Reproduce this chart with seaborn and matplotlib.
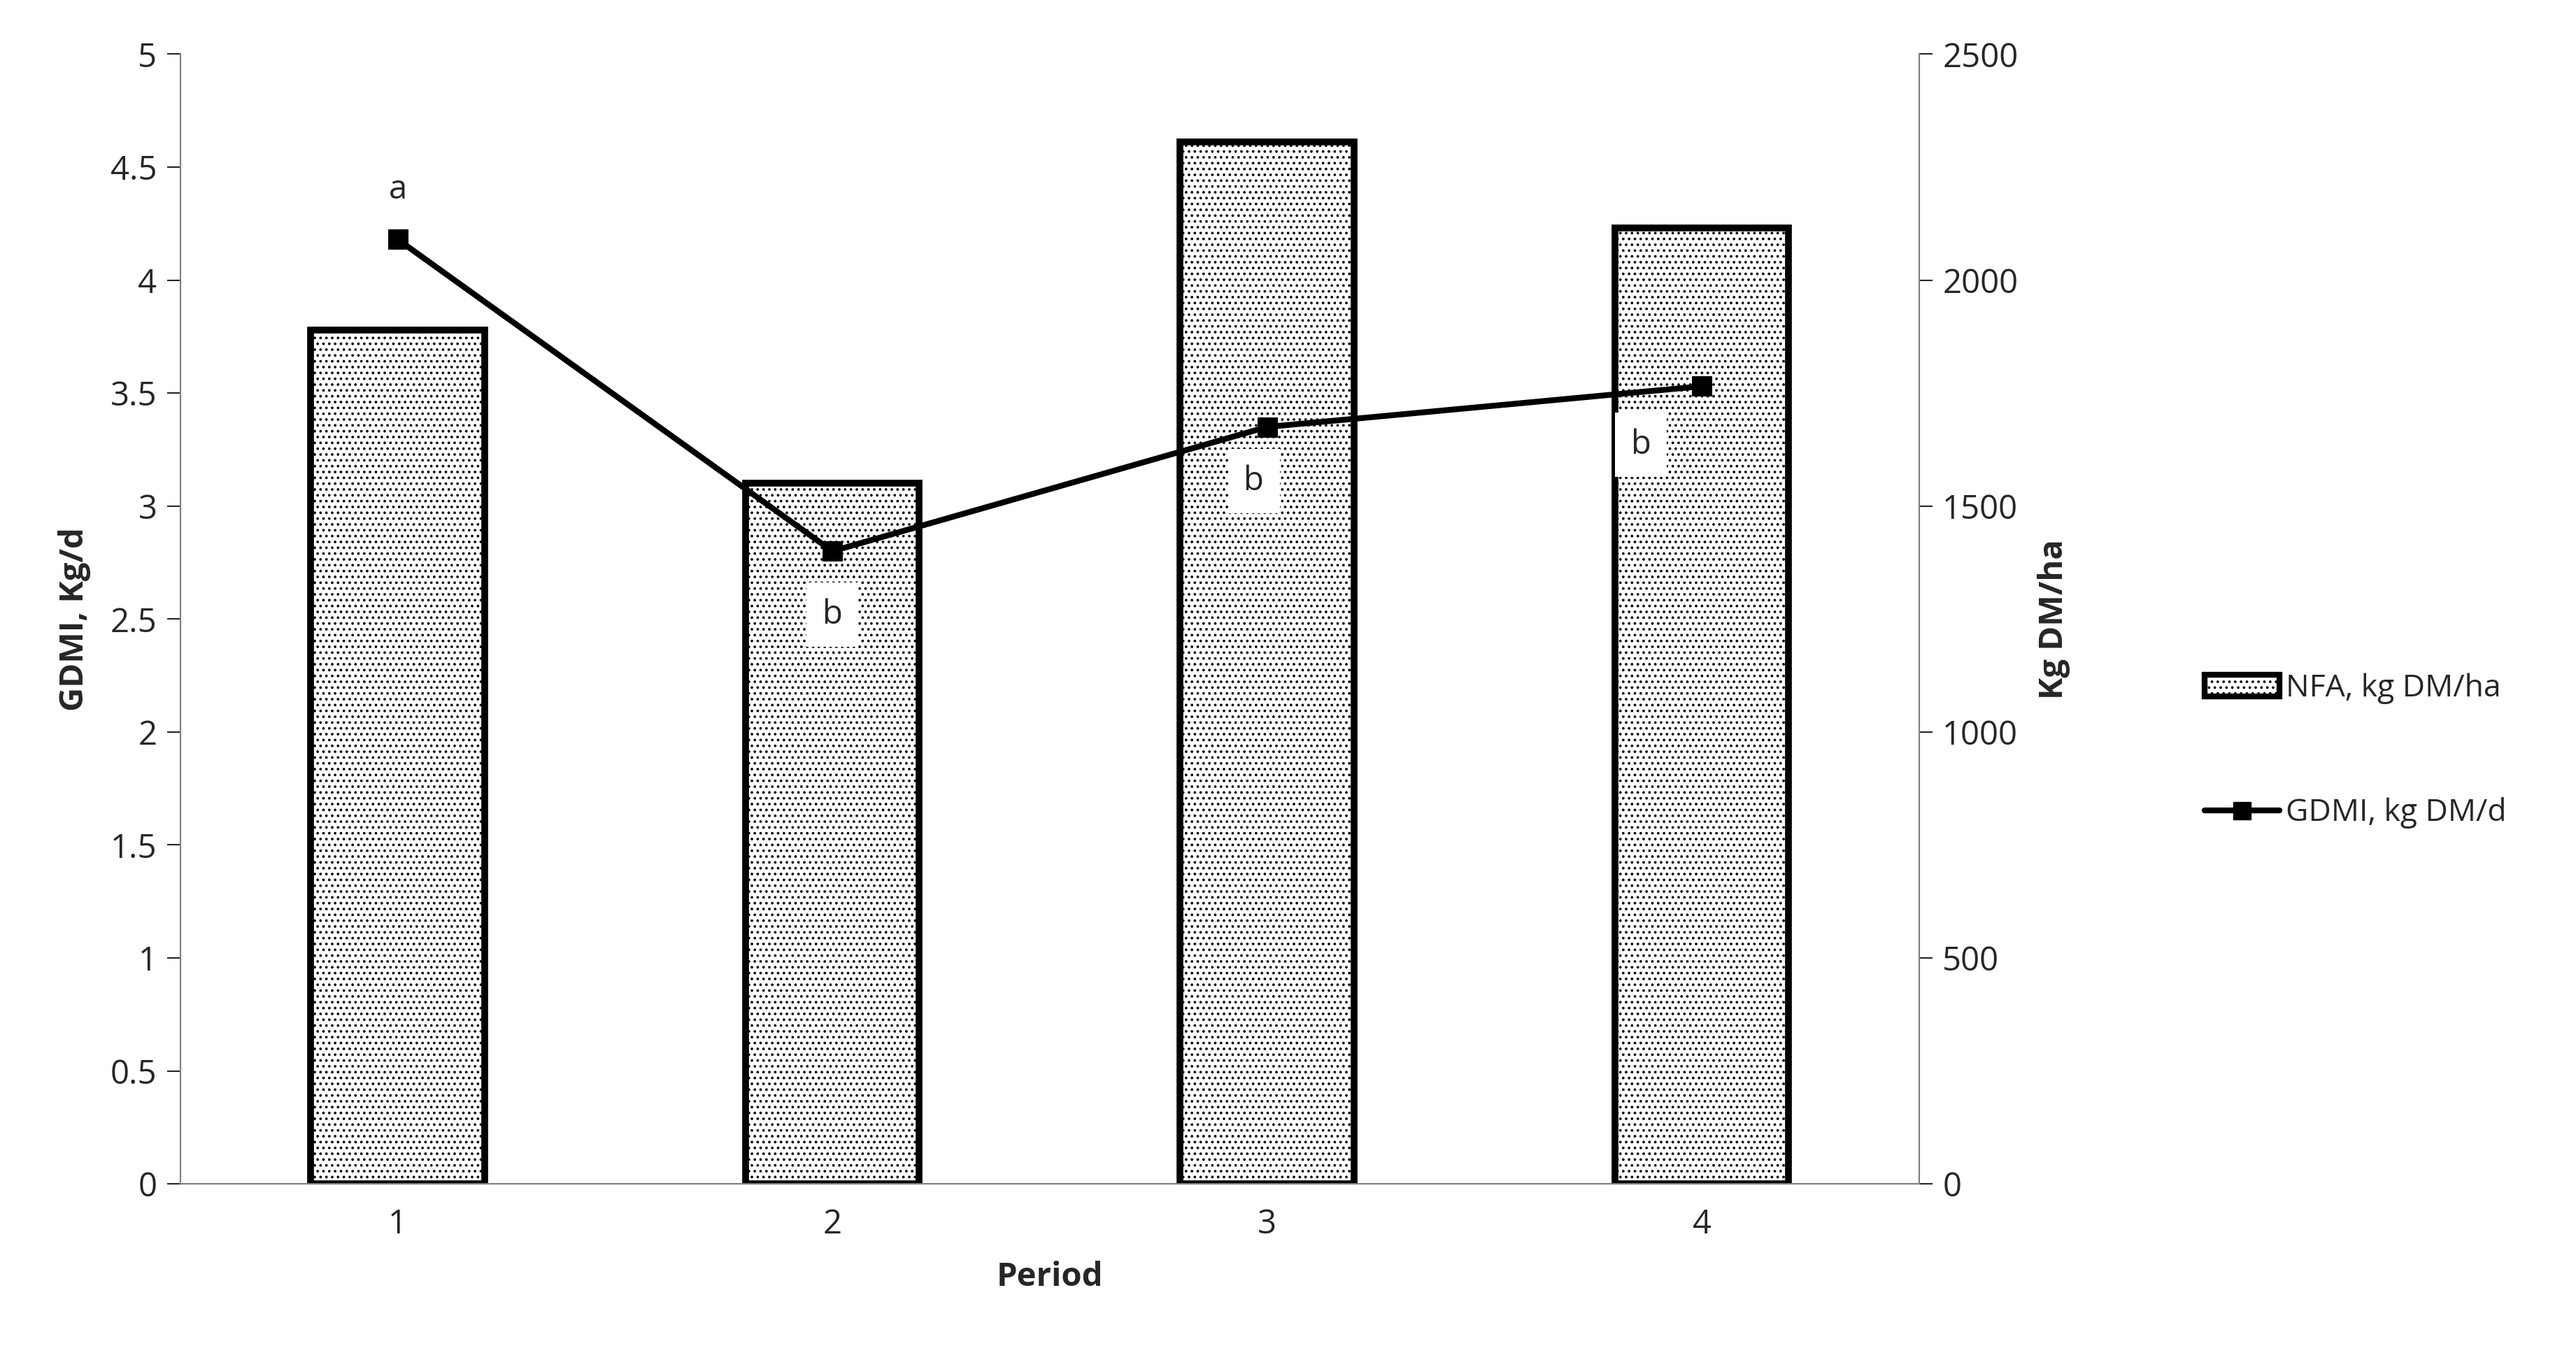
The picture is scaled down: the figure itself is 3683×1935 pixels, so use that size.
import matplotlib as mpl
import matplotlib.pyplot as plt
import seaborn as sns
import pandas as pd
import numpy as np
from matplotlib.patches import Patch
from matplotlib.lines import Line2D

sns.set_style("white")
plt.rcParams['font.family'] = ['Open Sans', 'DejaVu Sans']
plt.rcParams['hatch.linewidth'] = 1.5

periods = ["1", "2", "3", "4"]
nfa = [1890, 1550, 2305, 2115]          # NFA, kg DM/ha (right axis)
gdmi = [4.18, 2.80, 3.35, 3.53]         # GDMI, kg DM/d (left axis)
letters = ["a", "b", "b", "b"]

df = pd.DataFrame({"Period": periods, "NFA": nfa, "GDMI": gdmi, "pos": range(len(periods))})

fig = plt.figure(figsize=(36.83, 19.35), dpi=100)
ax = fig.add_axes([0.070, 0.125, 0.675, 0.835])
ax2 = ax.twinx()

# bars on the secondary axis
sns.barplot(data=df, x="Period", y="NFA", ax=ax2, color="white", width=0.4,
            edgecolor="black", linewidth=7, saturation=1)
for p in ax2.patches:
    p.set_hatch("..")
    p.set_edgecolor("black")

# line on the primary axis, drawn above bars
ax.set_zorder(ax2.get_zorder() + 1)
ax.patch.set_visible(False)
sns.lineplot(data=df, x="pos", y="GDMI", ax=ax, color="black", linewidth=6,
             marker="s", markersize=20, markeredgecolor="black")

# significance letters
fs = 34
offsets = [(0.0, 0.22), (0.0, -0.28), (-0.03, -0.24), (-0.14, -0.26)]
for i, (l, (dx, dy)) in enumerate(zip(letters, offsets)):
    box = None if i == 0 else dict(facecolor="white", edgecolor="none", pad=16)
    ax.text(i + dx, gdmi[i] + dy, l, ha="center", va="center", fontsize=fs, bbox=box, zorder=5)

ax.set_xlim(-0.5, 3.5)
ax.set_ylim(0, 5)
ax2.set_ylim(0, 2500)
ax.set_yticks(np.arange(0, 5.01, 0.5))
ax.set_yticklabels([f"{v:g}" for v in np.arange(0, 5.01, 0.5)], fontsize=fs)
ax2.set_yticks(np.arange(0, 2501, 500))
ax2.set_yticklabels([str(v) for v in range(0, 2501, 500)], fontsize=fs)
ax.set_xticks(range(4))
ax.set_xticklabels(periods, fontsize=fs)
ax.set_xticks(np.arange(-0.5, 3.6, 1), minor=True)
ax.tick_params(axis="x", which="major", length=0, pad=25)
ax.tick_params(axis="x", which="minor", length=14, width=1.5, direction="out")
ax.tick_params(axis="y", length=14, width=1.5, direction="out", pad=10)
ax2.tick_params(axis="y", length=14, width=1.5, direction="out", pad=10)
ax.set_xlabel("Period", fontsize=fs, fontweight="bold", labelpad=20)
ax.set_ylabel("GDMI, Kg/d", fontsize=fs, fontweight="bold", labelpad=20)
ax2.set_ylabel("Kg DM/ha", fontsize=fs, fontweight="bold", labelpad=20)
ax2.set_xlabel("")

for a in (ax, ax2):
    a.spines["top"].set_visible(False)
    for s in ("left", "right", "bottom"):
        a.spines[s].set_color("#808080")
        a.spines[s].set_linewidth(1.5)

handles = [Patch(facecolor="white", edgecolor="black", hatch="..", linewidth=6),
           Line2D([], [], color="black", linewidth=6, marker="s", markersize=18)]
fig.legend(handles, ["NFA, kg DM/ha", "GDMI, kg DM/d"], loc="center left",
           bbox_to_anchor=(0.845, 0.445), frameon=False, fontsize=32,
           labelspacing=3.0, handlelength=2.4, handletextpad=0.2)

plt.savefig("out.png", dpi=100)
